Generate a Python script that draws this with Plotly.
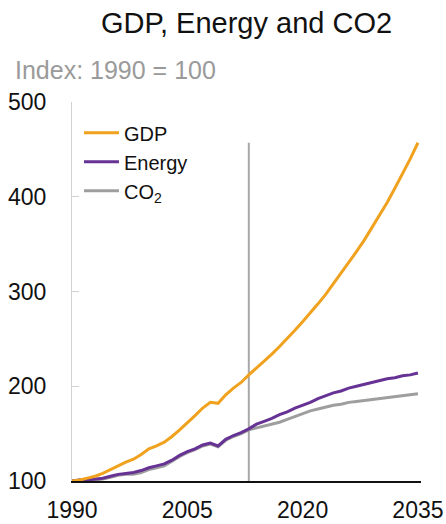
import plotly.graph_objects as go

years = list(range(1990, 2036))

gdp = [100, 101, 103, 105, 108, 112, 116, 120, 123, 128,
       134, 137, 141, 147, 154, 161, 169, 177, 183, 182,
       191, 198, 204, 212, 219, 226, 234, 242, 250, 259,
       268, 277, 287, 297, 308, 319, 330, 342, 354, 367,
       380, 394, 409, 424, 440, 457]

energy = [100, 101, 101, 102, 103, 105, 107, 108, 109, 111,
          114, 116, 118, 122, 127, 131, 134, 138, 140, 137,
          144, 148, 151, 155, 160, 163, 166, 170, 173, 177,
          180, 183, 187, 190, 193, 195, 198, 200, 202, 204,
          206, 208, 209, 211, 212, 214]

co2 = [100, 101, 100, 101, 102, 104, 106, 107, 107, 109,
       112, 114, 116, 121, 126, 130, 133, 137, 139, 136,
       143, 147, 150, 154, 156, 158, 160, 162, 165, 168,
       171, 174, 176, 178, 180, 181, 183, 184, 185, 186,
       187, 188, 189, 190, 191, 192]

series_names = ["GDP", "Energy", "CO<sub>2</sub>"]
series_colors = ["#F0A21E", "#663294", "#9E9E9E"]
forecast_start = 2013
divider_top = 457
x_ticks = [1990, 2005, 2020, 2035]
y_ticks = [100, 200, 300, 400, 500]

FONT = "Liberation Sans, Arial, sans-serif"

fig = go.Figure()
series = list(zip(series_names, [gdp, energy, co2], series_colors))
# draw gray first so purple sits above it
for name, vals, col in reversed(series):
    fig.add_trace(go.Scatter(x=years, y=vals, mode="lines", name=name,
                             line=dict(color=col, width=3)))

fig.add_shape(type="line", xref="x", yref="y",
              x0=forecast_start, x1=forecast_start, y0=100, y1=divider_top,
              line=dict(color="#A8A8A8", width=2), layer="below")

fig.update_layout(
    width=446, height=524,
    margin=dict(l=72, r=25, t=102, b=43),
    paper_bgcolor="white", plot_bgcolor="white",
    font=dict(family=FONT, color="#111111"),
    showlegend=True,
    legend=dict(x=0.02, y=0.97, xanchor="left", yanchor="top",
                traceorder="reversed",
                font=dict(size=20, color="#111111", family=FONT),
                bgcolor="rgba(0,0,0,0)", itemwidth=35, tracegroupgap=0),
    title=dict(text="GDP, Energy and CO2", x=246.5 / 446, xanchor="center",
               y=1 - 23 / 524, yanchor="middle", yref="container",
               font=dict(size=29, color="#111111", family=FONT)),
    xaxis=dict(range=[1990, 2035.4], tickvals=x_ticks,
               ticktext=[str(v) for v in x_ticks],
               showgrid=False, zeroline=False, showline=True,
               linecolor="#111111", linewidth=1.6, ticks="",
               tickfont=dict(size=23, color="#111111"),
               ticklabelstandoff=8, automargin=False),
    yaxis=dict(range=[100, 500], tickvals=y_ticks,
               showgrid=False, zeroline=False, showline=True,
               linecolor="#D0D0D0", linewidth=1, ticks="inside",
               ticklen=7, tickcolor="#D0D0D0",
               tickfont=dict(size=23, color="#111111"),
               ticklabelstandoff=20, automargin=False),
)

fig.add_annotation(text="Index: 1990 = 100", xref="paper", yref="paper",
                   x=(13 - 72) / 349, y=1 + 32 / 379, xanchor="left", yanchor="middle",
                   showarrow=False, font=dict(size=25, color="#9A9A9A", family=FONT))

fig.write_html("out.html")
